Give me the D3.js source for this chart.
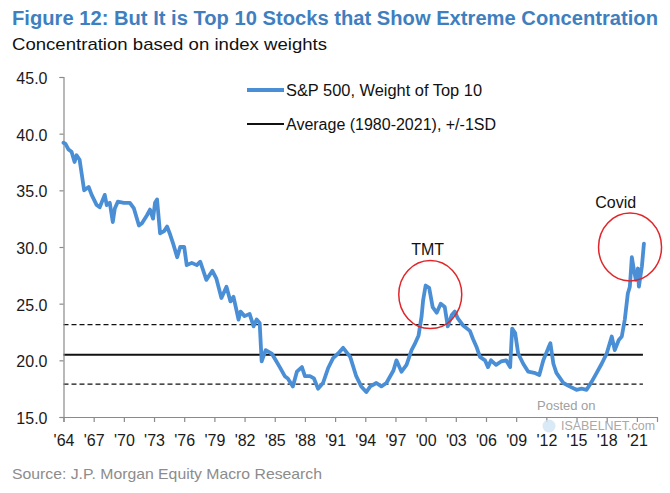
<!DOCTYPE html>
<html>
<head>
<meta charset="utf-8">
<script src="https://cdn.jsdelivr.net/npm/d3@7"></script>
<style>
  html, body { margin: 0; padding: 0; background: #fff; }
  svg { display: block; font-family: "Liberation Sans", Arial, sans-serif; }
</style>
</head>
<body>
<svg id="chart" width="670" height="493"></svg>
<script>
// ---- data ----
const years = [
  1964.0, 1964.2, 1964.5, 1964.8, 1965.1, 1965.3, 1965.6, 1965.8, 1966.05, 1966.5,
  1966.8, 1967.3, 1967.6, 1968.1, 1968.3, 1968.6, 1968.9, 1969.1, 1969.4, 1970.0,
  1970.6, 1971.0, 1971.5, 1971.8, 1972.3, 1972.6, 1972.9, 1973.1, 1973.3, 1973.6,
  1974.0, 1974.3, 1974.6, 1974.9, 1975.3, 1975.6, 1976.0, 1976.25, 1976.75, 1977.25,
  1977.6, 1978.2, 1978.8, 1979.2, 1979.7, 1980.2, 1980.6, 1980.9, 1981.4, 1981.6,
  1982.0, 1982.5, 1982.9, 1983.2, 1983.5, 1983.7, 1984.1, 1984.7, 1985.1, 1985.5,
  1986.0, 1986.3, 1986.8, 1987.2, 1987.7, 1988.0, 1988.5, 1988.9, 1989.3, 1989.8,
  1990.3, 1990.8, 1991.3, 1991.8, 1992.5, 1993.1, 1993.6, 1994.1, 1994.5, 1995.1,
  1995.6, 1996.1, 1996.8, 1997.1, 1997.6, 1998.1, 1998.6, 1998.9, 1999.3, 1999.6,
  1999.75, 2000.0, 2000.35, 2000.7, 2001.1, 2001.5, 2001.9, 2002.2, 2002.6, 2002.9,
  2003.2, 2003.7, 2004.4, 2004.7, 2005.05, 2005.4, 2005.9, 2006.2, 2006.5, 2007.0,
  2007.5, 2008.0, 2008.4, 2008.6, 2008.9, 2009.2, 2009.7, 2010.2, 2010.8, 2011.3,
  2011.7, 2012.2, 2012.4, 2012.7, 2013.0, 2013.7, 2014.3, 2015.0, 2015.5, 2016.0,
  2016.5, 2017.0, 2017.5, 2018.0, 2018.5, 2018.8, 2019.2, 2019.5, 2019.8, 2020.1,
  2020.3, 2020.5, 2020.7, 2020.9, 2021.1, 2021.2, 2021.4, 2021.5, 2021.7
];
const top10Weight = [
  39.2, 39.1, 38.6, 38.4, 37.5, 38.1, 37.7, 36.5, 35.0, 35.3,
  34.6, 33.7, 33.5, 34.6, 33.7, 33.9, 32.2, 33.4, 34.0, 33.9,
  33.9, 33.4, 31.9, 32.1, 32.8, 33.3, 32.5, 33.9, 34.2, 31.2,
  31.4, 31.8, 31.1, 30.3, 29.1, 30.0, 30.0, 28.4, 28.6, 28.4,
  28.7, 27.1, 27.9, 27.2, 25.5, 26.5, 25.2, 25.6, 23.6, 24.3,
  23.9, 24.1, 23.0, 23.6, 23.3, 19.9, 20.9, 20.6, 20.0, 19.4,
  18.6, 18.4, 17.7, 19.0, 19.4, 18.6, 18.6, 18.4, 17.5, 18.0,
  19.3, 20.2, 20.6, 21.1, 20.3, 18.6, 17.7, 17.2, 17.7, 18.0,
  17.7, 18.0, 19.1, 20.0, 19.0, 19.6, 20.9, 21.4, 22.2, 23.9,
  25.3, 26.6, 26.4, 24.7, 24.2, 25.0, 24.7, 23.0, 24.0, 24.3,
  23.7, 23.1, 22.6, 21.9, 21.2, 20.3, 20.0, 19.4, 20.0, 19.6,
  19.9, 20.0, 19.4, 22.8, 22.4, 20.6, 19.7, 19.0, 18.9, 18.7,
  20.0, 21.1, 21.5, 19.7, 18.9, 18.0, 17.7, 17.4, 17.5, 17.4,
  18.1, 18.9, 19.7, 20.6, 22.1, 20.9, 21.8, 22.1, 23.6, 25.9,
  26.5, 29.1, 28.0, 27.1, 28.1, 26.5, 27.7, 28.3, 30.3
];
const average = 20.5;
const upperSD = 23.15;
const lowerSD = 17.9;
const refStart = 1964;
const refEnd = 2021.6;
const xTickYears = [1964, 1967, 1970, 1973, 1976, 1979, 1982, 1985, 1988, 1991,
                    1994, 1997, 2000, 2003, 2006, 2009, 2012, 2015, 2018, 2021];
const xTickLabels = ["'64", "'67", "'70", "'73", "'76", "'79", "'82", "'85", "'88", "'91",
                     "'94", "'97", "'00", "'03", "'06", "'09", "'12", "'15", "'18", "'21"];
const yTicks = [15, 20, 25, 30, 35, 40, 45];
const annotations = [
  { label: "TMT",   year: 2000.46, value: 25.8, labelYear: 2000.2, labelValue: 29.3 },
  { label: "Covid", year: 2020.32, value: 30.0, labelYear: 2018.9, labelValue: 33.45 }
];
const titleText = "Figure 12: But It is Top 10 Stocks that Show Extreme Concentration";
const subtitleText = "Concentration based on index weights";
const sourceText = "Source: J.P. Morgan Equity Macro Research";
const legendLabels = ["S&P 500, Weight of Top 10", "Average (1980-2021), +/-1SD"];

// ---- layout ----
const svg = d3.select("#chart");
const blue = "#4a8fd6";
const x = d3.scaleLinear().domain([1964, 2023]).range([63.5, 657]);
const y = d3.scaleLinear().domain([15, 45]).range([417, 77]);

// titles
svg.append("text").attr("x", 12).attr("y", 25)
  .attr("font-size", 20).attr("font-weight", "bold").attr("fill", "#3f7fc0")
  .attr("textLength", 646).attr("lengthAdjust", "spacingAndGlyphs")
  .text(titleText);
svg.append("text").attr("x", 12).attr("y", 50)
  .attr("font-size", 17).attr("fill", "#111")
  .attr("textLength", 315).attr("lengthAdjust", "spacingAndGlyphs")
  .text(subtitleText);
svg.append("text").attr("x", 12).attr("y", 479)
  .attr("font-size", 15).attr("fill", "#8c8c8c")
  .attr("textLength", 310).attr("lengthAdjust", "spacingAndGlyphs")
  .text(sourceText);

// reference lines
const refs = [
  { v: upperSD, dash: "5,3", w: 1.4 },
  { v: average, dash: null, w: 2 },
  { v: lowerSD, dash: "5,3", w: 1.4 }
];
svg.append("g").selectAll("line").data(refs).join("line")
  .attr("x1", x(refStart)).attr("x2", x(refEnd))
  .attr("y1", d => y(d.v)).attr("y2", d => y(d.v))
  .attr("stroke", "#111").attr("stroke-width", d => d.w)
  .attr("stroke-dasharray", d => d.dash);

// axes
const axisColor = "#8a8a8a";
const yAxis = svg.append("g").attr("transform", `translate(${x(1964)},0)`)
  .call(d3.axisLeft(y).tickValues(yTicks).tickFormat(d3.format(".1f")).tickSize(4).tickPadding(12));
const xAxis = svg.append("g").attr("transform", `translate(0,${y(15)})`)
  .call(d3.axisBottom(x).tickValues(xTickYears).tickFormat((d, i) => xTickLabels[i]).tickSize(5));
[yAxis, xAxis].forEach(g => {
  g.select(".domain").attr("stroke", axisColor).attr("stroke-width", 1.2);
  g.selectAll(".tick line").attr("stroke", axisColor).attr("stroke-width", 1.2);
  g.selectAll("text").attr("font-size", 16).attr("fill", "#1a1a1a")
    .attr("font-family", "'Liberation Sans', Arial, sans-serif");
});
yAxis.selectAll("text").attr("dy", "0.4em");
xAxis.selectAll("text").attr("y", 29).attr("dy", 0);

// watermark
svg.append("text").attr("x", 537).attr("y", 410).attr("font-size", 13)
  .attr("fill", "#a0a0a0").text("Posted on");
svg.append("circle").attr("cx", 549).attr("cy", 426).attr("r", 6.5).attr("fill", "#cfe3f2").attr("opacity", 0.8);
svg.append("text").attr("x", 561).attr("y", 430).attr("font-size", 13)
  .attr("fill", "#a8a8a8").attr("textLength", 94).attr("lengthAdjust", "spacingAndGlyphs")
  .text("ISABELNET.com");

// series line
const line = d3.line().x((d, i) => x(years[i])).y(d => y(d)).curve(d3.curveLinear);
svg.append("path").datum(top10Weight)
  .attr("d", line).attr("fill", "none")
  .attr("stroke", blue).attr("stroke-width", 3.8)
  .attr("stroke-linejoin", "round").attr("stroke-linecap", "round");

// annotations
const ann = svg.append("g");
ann.selectAll("ellipse").data(annotations).join("ellipse")
  .attr("cx", d => x(d.year)).attr("cy", d => y(d.value))
  .attr("rx", 31.5).attr("ry", 34)
  .attr("fill", "none").attr("stroke", "#e0262a").attr("stroke-width", 1.5);
ann.selectAll("text").data(annotations).join("text")
  .attr("x", d => x(d.labelYear)).attr("y", d => y(d.labelValue))
  .attr("text-anchor", "middle").attr("font-size", 16).attr("fill", "#111")
  .text(d => d.label);

// legend
const legend = svg.append("g");
const legendItems = [
  { label: legendLabels[0], color: blue, w: 3.8, yy: 90, len: 196 },
  { label: legendLabels[1], color: "#111", w: 1.8, yy: 124, len: 210 }
];
legend.selectAll("line").data(legendItems).join("line")
  .attr("x1", 247).attr("x2", 284).attr("y1", d => d.yy).attr("y2", d => d.yy)
  .attr("stroke", d => d.color).attr("stroke-width", d => d.w);
legend.selectAll("text").data(legendItems).join("text")
  .attr("x", 286).attr("y", d => d.yy + 6).attr("font-size", 16).attr("fill", "#111")
  .attr("textLength", d => d.len).attr("lengthAdjust", "spacingAndGlyphs")
  .text(d => d.label);
</script>
</body>
</html>
